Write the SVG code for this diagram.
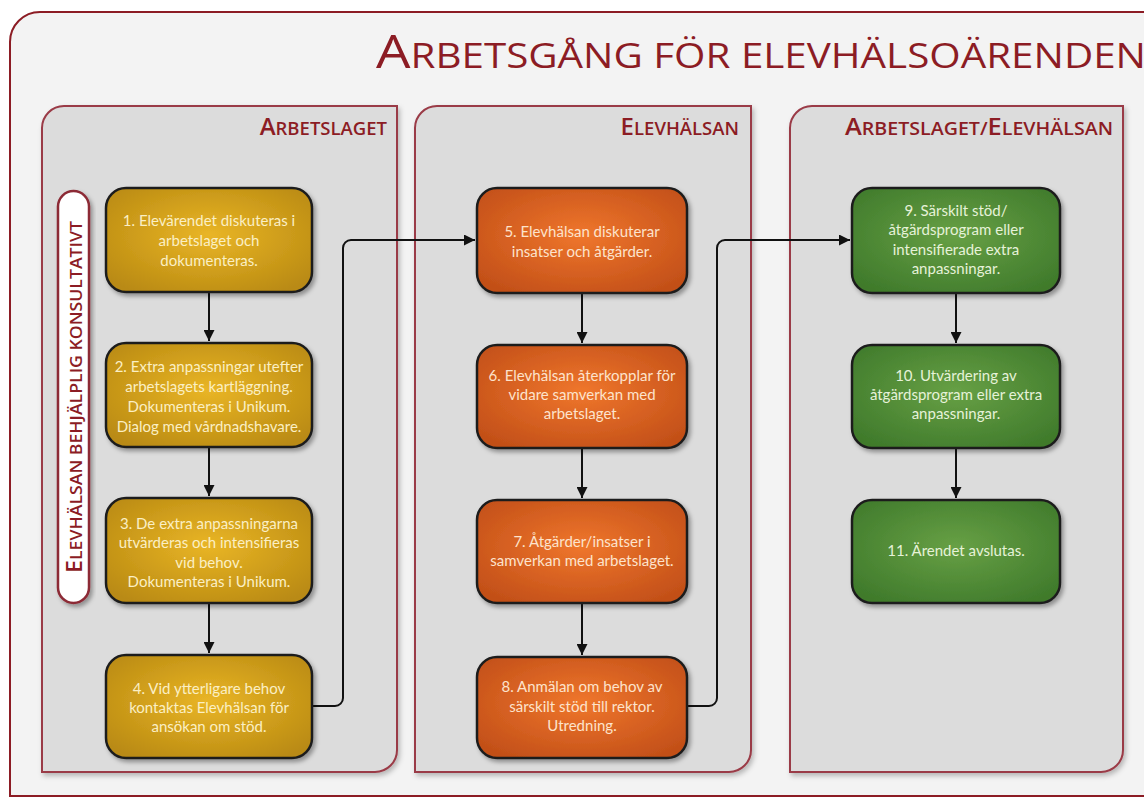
<svg xmlns="http://www.w3.org/2000/svg" width="1144" height="798" viewBox="0 0 1144 798">
<defs>
<filter id="sh" x="-10%" y="-10%" width="130%" height="130%"><feDropShadow dx="2.5" dy="3" stdDeviation="2" flood-color="#000" flood-opacity="0.35"/></filter>
<filter id="shl" x="-5%" y="-5%" width="115%" height="115%"><feDropShadow dx="2" dy="3" stdDeviation="2.5" flood-color="#000" flood-opacity="0.25"/></filter>
<radialGradient id="gy" cx="50%" cy="45%" r="65%"><stop offset="0" stop-color="#e9b526"/><stop offset="1" stop-color="#b98a12"/></radialGradient>
<radialGradient id="go" cx="50%" cy="45%" r="65%"><stop offset="0" stop-color="#ef762c"/><stop offset="1" stop-color="#c24f18"/></radialGradient>
<radialGradient id="gg" cx="50%" cy="45%" r="65%"><stop offset="0" stop-color="#67a045"/><stop offset="1" stop-color="#3f7a2b"/></radialGradient>
<marker id="ah" viewBox="0 0 10 10" refX="10" refY="5" markerWidth="11" markerHeight="11" markerUnits="userSpaceOnUse" orient="auto"><path d="M0,0 L10,5 L0,10 Z" fill="#111"/></marker>
</defs>
<style>
.frame{fill:#f3f3f3;stroke:#8c1c24;stroke-width:2}
.lane{fill:#dcdcdc;stroke:#9a3a46;stroke-width:2;filter:url(#shl)}
.node{stroke:#1e1e1e;stroke-width:2.5;filter:url(#sh)}
.y{fill:url(#gy)}.o{fill:url(#go)}.g{fill:url(#gg)}
.t{font-family:Lato,"Open Sans","Liberation Sans",sans-serif;font-size:15px;text-anchor:middle}
.ty{fill:#fbefc4}.to{fill:#fde3cc}.tg{fill:#e6f2d8}
.hd{font-family:"Open Sans",Lato,"Liberation Sans",sans-serif;fill:#8c1c24}
.lh{text-anchor:end;font-weight:600}
.con{fill:none;stroke:#111;stroke-width:2}
</style>
<path class="frame" d="M10,42 A30,30 0 0 1 40,12 H1160 V796 H10 Z"/>
<text class="hd" x="376" y="68" textLength="770" lengthAdjust="spacingAndGlyphs"><tspan font-size="46">A</tspan><tspan font-size="34">RBETSGÅNG FÖR ELEVHÄLSOÄRENDEN</tspan></text>

<g id="lane1">
<path class="lane" d="M42,128 A22,22 0 0 1 64,106 H397 V750 A22,22 0 0 1 375,772 H42 Z"/>
<text class="hd lh" x="387" y="135"><tspan font-size="24">A</tspan><tspan font-size="18.5">RBETSLAGET</tspan></text>
</g>
<g id="lane2">
<path class="lane" d="M415,128 A22,22 0 0 1 437,106 H751 V750 A22,22 0 0 1 729,772 H415 Z"/>
<text class="hd lh" x="739" y="135"><tspan font-size="24">E</tspan><tspan font-size="18.5">LEVHÄLSAN</tspan></text>
</g>
<g id="lane3">
<path class="lane" d="M790,128 A22,22 0 0 1 812,106 H1123 V750 A22,22 0 0 1 1101,772 H790 Z"/>
<text class="hd lh" x="1113" y="135" textLength="268" lengthAdjust="spacingAndGlyphs"><tspan font-size="24">A</tspan><tspan font-size="18.5">RBETSLAGET/</tspan><tspan font-size="24">E</tspan><tspan font-size="18.5">LEVHÄLSAN</tspan></text>
</g>

<g id="pill">
<rect x="58" y="191" width="31" height="412" rx="15.5" fill="#ffffff" stroke="#8c2a36" stroke-width="2.5" filter="url(#sh)"/>
<text class="hd" font-weight="600" transform="translate(82,573) rotate(-90)" x="0" y="0" textLength="352" lengthAdjust="spacingAndGlyphs"><tspan font-size="21">E</tspan><tspan font-size="16">LEVHÄLSAN BEHJÄLPLIG KONSULTATIVT</tspan></text>
</g>

<g id="connectors">
<path class="con" d="M209,292 V341" marker-end="url(#ah)"/>
<path class="con" d="M209,447 V496" marker-end="url(#ah)"/>
<path class="con" d="M209,603 V653" marker-end="url(#ah)"/>
<path class="con" d="M312,706 H335 A8,8 0 0 0 343,698 V248 A8,8 0 0 1 351,240 H475" marker-end="url(#ah)"/>
<path class="con" d="M582,293 V343" marker-end="url(#ah)"/>
<path class="con" d="M582,448 V498" marker-end="url(#ah)"/>
<path class="con" d="M582,603 V655" marker-end="url(#ah)"/>
<path class="con" d="M687,706 H709 A8,8 0 0 0 717,698 V248 A8,8 0 0 1 725,240 H850" marker-end="url(#ah)"/>
<path class="con" d="M956,293 V343" marker-end="url(#ah)"/>
<path class="con" d="M956,448 V498" marker-end="url(#ah)"/>
</g>

<g id="n1"><rect class="node y" x="106" y="188" width="206" height="104" rx="20"/>
<text class="t ty"><tspan x="209" y="226">1. Elevärendet diskuteras i</tspan><tspan x="209" y="246">arbetslaget och</tspan><tspan x="209" y="266">dokumenteras.</tspan></text></g>
<g id="n2"><rect class="node y" x="106" y="343" width="206" height="104" rx="20"/>
<text class="t ty"><tspan x="209" y="372">2. Extra anpassningar utefter</tspan><tspan x="209" y="392">arbetslagets kartläggning.</tspan><tspan x="209" y="412">Dokumenteras i Unikum.</tspan><tspan x="209" y="432">Dialog med vårdnadshavare.</tspan></text></g>
<g id="n3"><rect class="node y" x="106" y="498" width="206" height="105" rx="20"/>
<text class="t ty"><tspan x="209" y="529">3. De extra anpassningarna</tspan><tspan x="209" y="548">utvärderas och intensifieras</tspan><tspan x="209" y="568">vid behov.</tspan><tspan x="209" y="587">Dokumenteras i Unikum.</tspan></text></g>
<g id="n4"><rect class="node y" x="106" y="655" width="206" height="103" rx="20"/>
<text class="t ty"><tspan x="209" y="694">4. Vid ytterligare behov</tspan><tspan x="209" y="713">kontaktas Elevhälsan för</tspan><tspan x="209" y="732">ansökan om stöd.</tspan></text></g>

<g id="n5"><rect class="node o" x="477" y="188" width="210" height="105" rx="20"/>
<text class="t to"><tspan x="582" y="237">5. Elevhälsan diskuterar</tspan><tspan x="582" y="257">insatser och åtgärder.</tspan></text></g>
<g id="n6"><rect class="node o" x="477" y="345" width="210" height="103" rx="20"/>
<text class="t to"><tspan x="582" y="381">6. Elevhälsan återkopplar för</tspan><tspan x="582" y="400">vidare samverkan med</tspan><tspan x="582" y="419">arbetslaget.</tspan></text></g>
<g id="n7"><rect class="node o" x="477" y="500" width="210" height="103" rx="20"/>
<text class="t to"><tspan x="582" y="547">7. Åtgärder/insatser i</tspan><tspan x="582" y="566">samverkan med arbetslaget.</tspan></text></g>
<g id="n8"><rect class="node o" x="477" y="657" width="210" height="101" rx="20"/>
<text class="t to"><tspan x="582" y="692">8. Anmälan om behov av</tspan><tspan x="582" y="712">särskilt stöd till rektor.</tspan><tspan x="582" y="731">Utredning.</tspan></text></g>

<g id="n9"><rect class="node g" x="852" y="188" width="208" height="105" rx="20"/>
<text class="t tg"><tspan x="956" y="216">9. Särskilt stöd/</tspan><tspan x="956" y="235">åtgärdsprogram eller</tspan><tspan x="956" y="255">intensifierade extra</tspan><tspan x="956" y="274">anpassningar.</tspan></text></g>
<g id="n10"><rect class="node g" x="852" y="345" width="208" height="103" rx="20"/>
<text class="t tg"><tspan x="956" y="381">10. Utvärdering av</tspan><tspan x="956" y="400">åtgärdsprogram eller extra</tspan><tspan x="956" y="419">anpassningar.</tspan></text></g>
<g id="n11"><rect class="node g" x="852" y="500" width="208" height="103" rx="20"/>
<text class="t tg"><tspan x="956" y="556">11. Ärendet avslutas.</tspan></text></g>
</svg>
